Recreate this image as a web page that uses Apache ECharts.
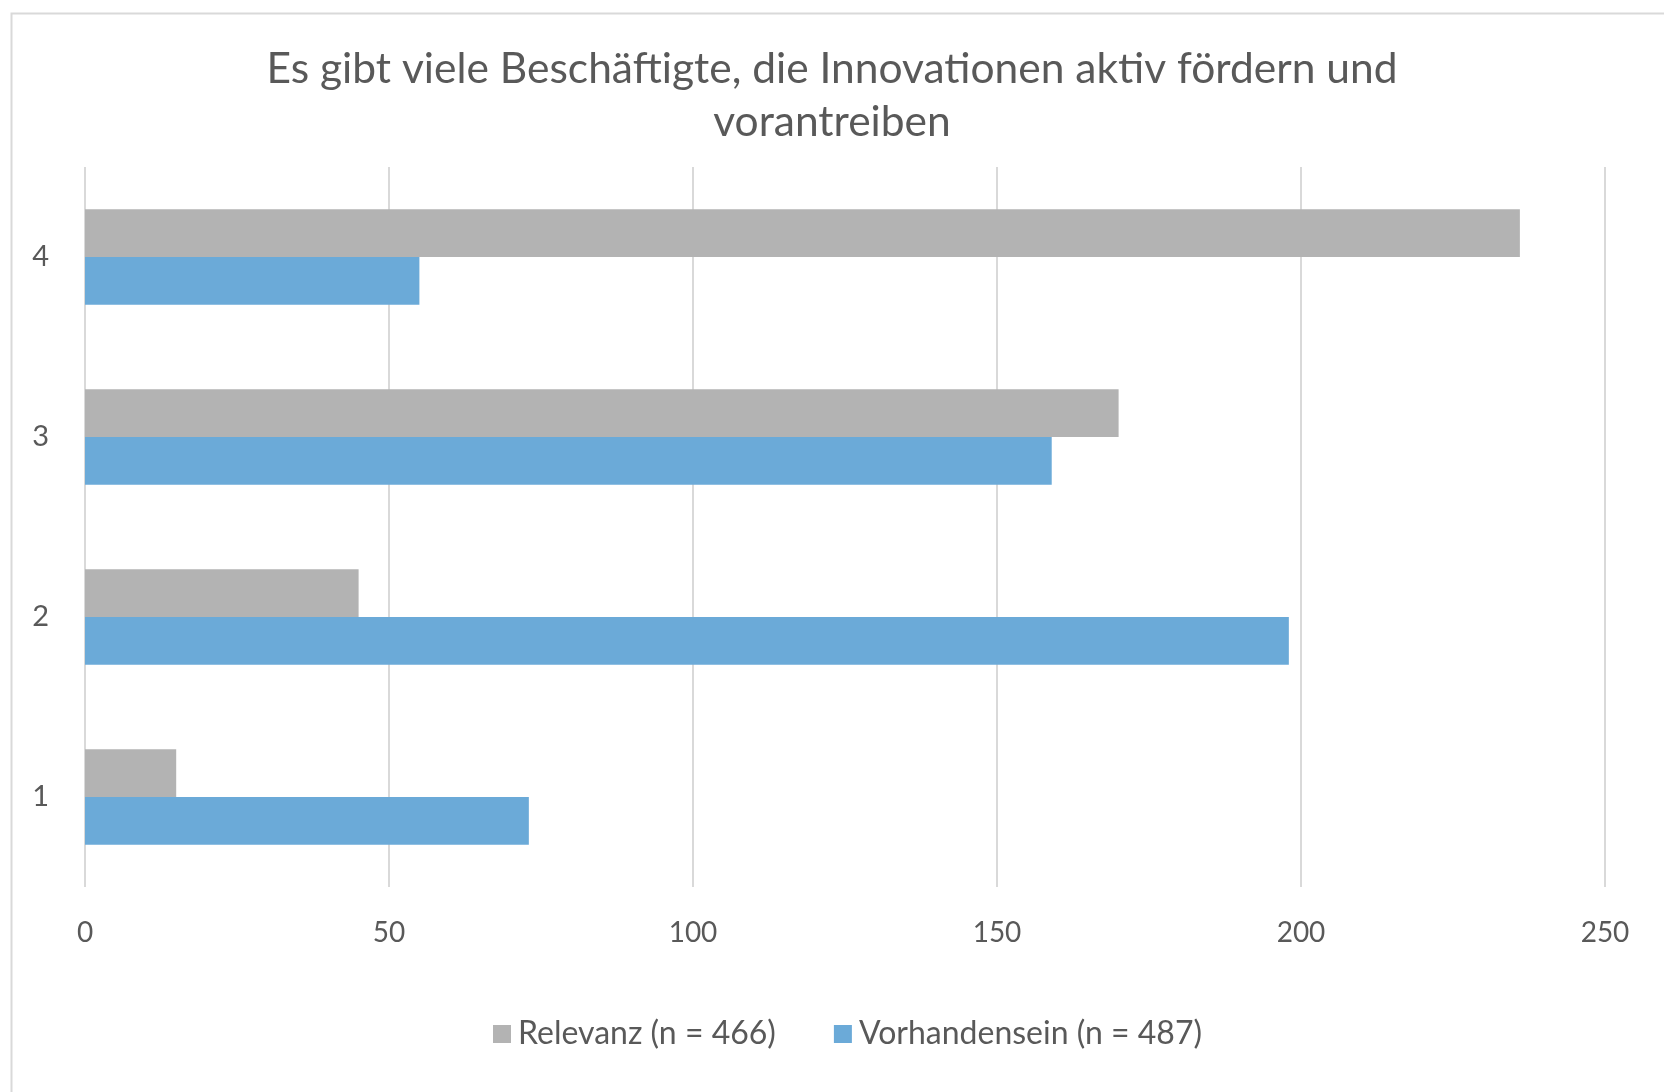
<!DOCTYPE html>
<html>
<head>
<meta charset="utf-8">
<script src="https://cdn.jsdelivr.net/npm/echarts@6/dist/echarts.min.js"></script>
<style>
html,body{margin:0;padding:0;background:#fff;}
#chart{width:1664px;height:1092px;}
</style>
</head>
<body>
<div id="chart"></div>
<script>
const titleText = "Es gibt viele Beschäftigte, die Innovationen aktiv fördern und\nvorantreiben";
const categories = ["1", "2", "3", "4"];
const relevanzName = "Relevanz (n = 466)";
const relevanz = [15, 45, 170, 236];
const vorhandenName = "Vorhandensein (n = 487)";
const vorhandensein = [73, 198, 159, 55];
const xTicks = {min: 0, max: 250, interval: 50};

const FONT = "Lato";
const TXT = "#595959";
const chart = echarts.init(document.getElementById("chart"), null, {renderer: "canvas"});
chart.setOption({
  backgroundColor: "#ffffff",
  animation: false,
  graphic: [{
    type: "rect", left: 9, top: 11,
    shape: {width: 1700, height: 1100},
    style: {fill: "none", stroke: "#D9D9D9", lineWidth: 2},
    silent: true
  }],
  title: {
    text: titleText,
    left: "center",
    top: 38,
    textStyle: {fontFamily: FONT, fontSize: 42.5, fontWeight: "normal", color: TXT, lineHeight: 53}
  },
  legend: {
    data: [relevanzName, vorhandenName],
    left: 488,
    top: 1013,
    itemWidth: 18, itemHeight: 18, itemGap: 58,
    icon: "rect",
    textStyle: {fontFamily: FONT, fontSize: 32, color: TXT, padding: [0, 0, 0, 2]}
  },
  grid: {left: 85, right: 59, top: 167, bottom: 205, containLabel: false},
  xAxis: {
    type: "value",
    min: xTicks.min, max: xTicks.max, interval: xTicks.interval,
    axisLine: {show: false},
    axisTick: {show: false},
    splitLine: {show: true, lineStyle: {color: "#D9D9D9", width: 2}},
    axisLabel: {fontFamily: FONT, fontSize: 28, color: TXT, margin: 32}
  },
  yAxis: {
    type: "category",
    data: categories,
    axisLine: {show: false},
    axisTick: {show: false},
    splitLine: {show: false},
    axisLabel: {fontFamily: FONT, fontSize: 29, color: TXT, margin: 36, padding: [4, 0, 0, 0]}
  },
  series: [
    {name: relevanzName, type: "bar", data: relevanz, barGap: "0%", barCategoryGap: "47%",
     itemStyle: {color: "#B3B3B3"}},
    {name: vorhandenName, type: "bar", data: vorhandensein, barGap: "0%", barCategoryGap: "47%",
     itemStyle: {color: "#6BAAD8"}}
  ]
});
</script>
</body>
</html>
